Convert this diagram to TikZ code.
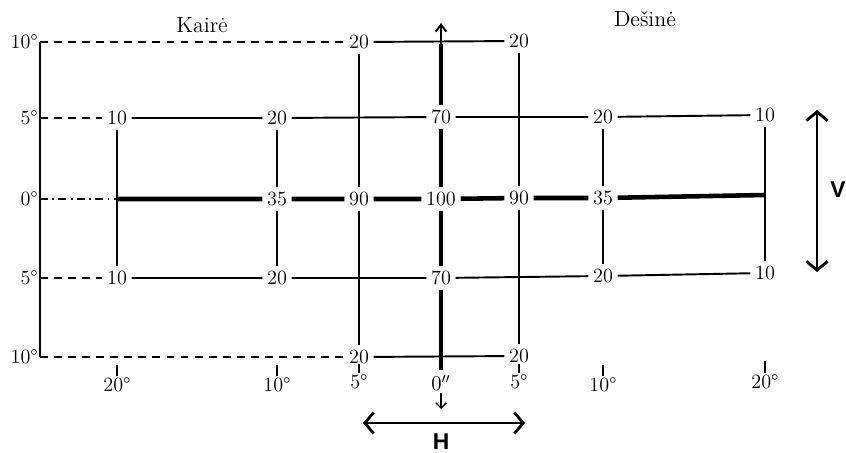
\documentclass[tikz,border=0pt]{standalone}
\usepackage{fontspec}
\usepackage{tikz}
\usetikzlibrary{positioning,arrows.meta}
\newfontfamily\hvfont{Liberation Sans}

\begin{document}
\begin{tikzpicture}[
x=0.02cm, y=-0.02cm,
num/.style={inner sep=2.5pt, font=\fontsize{11.5pt}{13pt}\selectfont},
deg/.style={inner sep=1pt, font=\fontsize{11.5pt}{13pt}\selectfont},
side/.style={font=\fontsize{12.5pt}{14pt}\selectfont},
ln/.style={line width=1.1pt},
thk/.style={line width=2.6pt},
dsh/.style={line width=1.1pt, dash pattern=on 4.5pt off 3.5pt},
dd/.style={line width=1.1pt, dash pattern=on 4.5pt off 2.5pt on 1pt off 2.5pt},
dir/.style={{Straight Barb[length=5pt,width=12pt]}-{Straight Barb[length=5pt,width=12pt]}, line width=1.6pt},
axis/.style={inner sep=0.5pt, font=\hvfont\bfseries\fontsize{13pt}{15pt}\selectfont}
]
\useasboundingbox (0,0) rectangle (846,453);
\coordinate (c1) at (40,42);
\coordinate (c2) at (40,118);
\coordinate (c3) at (40,199);
\coordinate (c4) at (40,278);
\coordinate (c5) at (40,357);
\node[deg, anchor=east] (l1) at (c1) {10°};
\node[deg, anchor=east] (l2) at (c2) {5°};
\node[deg, anchor=east] (l3) at (c3) {0°};
\node[deg, anchor=east] (l4) at (c4) {5°};
\node[deg, anchor=east] (l5) at (c5) {10°};
\node[side] (kaire) at (202,25) {Kairė};
\node[side] (desine) at (645,19) {Dešinė};

\node[num] (t5l) at (359,42) {20};
\node[num] (t5r) at (519,41) {20};
\node[num] (a20l) at (117,118) {10};
\node[num] (a10l) at (277,118) {20};
\node[num] (a0) at (441,117) {70};
\node[num] (a10r) at (603,117) {20};
\node[num] (a20r) at (765,115) {10};
\coordinate (z20l) at (117,199);
\node[num] (z10l) at (277,199) {35};
\node[num] (z5l) at (359,199) {90};
\node[num] (z0) at (441,199) {100};
\node[num] (z5r) at (519,198) {90};
\node[num] (z10r) at (603,198) {35};
\coordinate (z20r) at (765,195);
\node[num] (b20l) at (117,278) {10};
\node[num] (b10l) at (277,278) {20};
\node[num] (b0) at (441,278) {70};
\node[num] (b10r) at (603,276) {20};
\node[num] (b20r) at (765,273) {10};
\node[num] (m5l) at (359,357) {20};
\node[num] (m5r) at (519,356) {20};

\draw[ln] (c1) -- (c5);
\draw[dsh] (c1) -- (t5l);
\draw[ln] (t5l) -- (t5r);
\draw[dsh] (c2) -- (a20l);
\draw[ln] (a20l) -- (a10l) -- (a0) -- (a10r) -- (a20r);
\draw[dd] (c3) -- (z20l);
\draw[thk] (z20l) -- (z10l) -- (z5l) -- (z0) -- (z5r) -- (z10r) -- (z20r);
\draw[dsh] (c4) -- (b20l);
\draw[ln] (b20l) -- (b10l) -- (b0) -- (b10r) -- (b20r);
\draw[dsh] (c5) -- (m5l);
\draw[ln] (m5l) -- (m5r);

\draw[ln] (a20l) -- (b20l);
\draw[ln] (a10l) -- (z10l) -- (b10l);
\draw[ln] (t5l) -- (z5l) -- (m5l);
\draw[ln] (t5r) -- (z5r) -- (m5r);
\draw[ln] (a10r) -- (z10r) -- (b10r);
\draw[ln] (a20r) -- (z20r) -- (b20r);

\coordinate (ctop) at (441,44);
\coordinate (up) at (441,23);
\coordinate (cbot) at (441,370);
\draw[thk] (a0) -- (ctop);
\draw[ln, -{Straight Barb[length=4pt,width=6pt]}] (ctop) -- (up);
\draw[thk] (a0) -- (z0) -- (b0) -- (cbot);

\node[deg] (d20l) at (117,385) {20°};
\node[deg] (d10l) at (277,385) {10°};
\node[deg] (d5l) at (359,382) {5°};
\node[deg] (d0) at (441,383) {$0''$};
\node[deg] (d5r) at (519,382) {5°};
\node[deg] (d10r) at (603,385) {10°};
\node[deg] (d20r) at (765,382) {20°};
\foreach \d/\y in {d20l/365, d10l/365, d5l/364, d5r/364, d10r/365, d20r/361}
  \draw[ln] (\d.north |- 0,\y) -- (\d.north);
\coordinate (down) at (441,409);
\draw[line width=0.8pt, -{Straight Barb[length=3pt,width=6pt]}] (d0) -- (down);

\coordinate (hl) at (363,423);
\coordinate (hr) at (525,423);
\draw[dir] (hl) -- (hr);
\node[axis] (hlab) at (441,442) {H};
\coordinate (vt) at (817,110);
\coordinate (vb) at (817,272);
\draw[dir] (vt) -- (vb);
\node[axis] (vlab) at (838,190) {V};
\end{tikzpicture}
\end{document}
